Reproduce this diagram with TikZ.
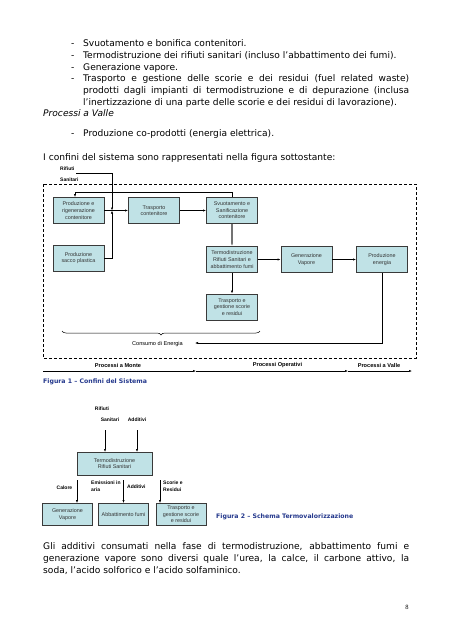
\documentclass[tikz,border=0pt]{standalone}
\usepackage{fontspec}
\setmainfont{DejaVu Sans}
\newfontfamily\arialfam{Liberation Sans}
\newfontfamily\serifam{Liberation Serif}
\usetikzlibrary{arrows.meta,decorations.pathreplacing}
\definecolor{boxfill}{RGB}{192,226,230}
\definecolor{boxedge}{RGB}{58,58,58}
\definecolor{capblue}{RGB}{36,56,140}
\newcommand{\bodysize}{\fontsize{9.1}{11}\selectfont}
\newcommand{\boxsize}{\arialfam\fontsize{5.4}{6.6}\selectfont}
\newcommand{\lblsize}{\arialfam\bfseries\fontsize{5}{7}\selectfont}
\newcommand{\axsize}{\arialfam\bfseries\fontsize{5.6}{7}\selectfont}
\newcommand{\capsize}{\bfseries\fontsize{6.2}{7.5}\selectfont}

\begin{document}
\begin{tikzpicture}[x=1pt,y=-1pt]
\tikzstyle{every node}+=[inner sep=0pt]
\tikzstyle{bodyline}=[anchor=base west,font=\bodysize]
\tikzstyle{procbox}=[draw=boxedge,line width=0.9pt,fill=boxfill,minimum width=51pt,minimum height=26pt,align=center,font=\boxsize,text=black!80]
\tikzstyle{flow}=[-{Latex[length=3pt,width=2.2pt]},line width=0.5pt]
\tikzstyle{grayflow}=[flow,line width=1.4pt,draw=black!55]
\tikzstyle{lbl}=[font=\lblsize,align=left]
\tikzstyle{axlbl}=[font=\axsize]
\tikzstyle{caption}=[anchor=base west,font=\capsize,text=capblue]
\tikzstyle{boundary}=[line width=0.9pt,dash pattern=on 3pt off 2pt]
\useasboundingbox (0,0) rectangle (452,640);
\node[bodyline] (b1) at (71,46.6) {-};
\node[bodyline] (t1) at (83,46.6) {Svuotamento e bonifica contenitori.};
\node[bodyline] (b2) at (71,58.3) {-};
\node[bodyline] (t2) at (83,58.3) {Termodistruzione dei rifiuti sanitari (incluso l’abbattimento dei fumi).};
\node[bodyline] (b3) at (71,70) {-};
\node[bodyline] (t3) at (83,70) {Generazione vapore.};
\node[bodyline] (b4) at (71,81.7) {-};
\node[bodyline] (t4) at (83,81.7) {\makebox[326pt][s]{Trasporto e gestione delle scorie e dei residui (fuel related waste)}};
\node[bodyline] (t5) at (83,93.4) {\makebox[326pt][s]{prodotti dagli impianti di termodistruzione e di depurazione (inclusa}};
\node[bodyline] (t6) at (83,105.1) {l’inertizzazione di una parte delle scorie e dei residui di lavorazione).};
\node[bodyline] (t7) at (43,116.8) {\itshape Processi a Valle};
\node[bodyline] (b8) at (71,136.6) {-};
\node[bodyline] (t8) at (83,136.6) {Produzione co-prodotti (energia elettrica).};
\node[bodyline] (t9) at (43,160.6) {I confini del sistema sono rappresentati nella figura sottostante:};
\draw[boundary] (43,184) rectangle (416,358);
\node[lbl,anchor=west] (rifa) at (60,169) {Rifiuti};
\node[lbl,anchor=west] (rifb) at (60,180) {Sanitari};
\node[procbox] (prodrig) at (78.5,210.5) {Produzione e\\rigenerazione\\contenitore};
\node[procbox] (traspc) at (154,210.5) {Trasporto\\contenitore};
\node[procbox] (svuot) at (232,210.5) {Svuotamento e\\Sanificazione\\contenitore};
\node[procbox] (sacco) at (78.5,258) {Produzione\\sacco plastica};
\node[procbox] (termo) at (232,259.5) {Termodistruzione\\Rifiuti Sanitari e\\abbattimento fumi};
\node[procbox] (genvap) at (306.5,259.5) {Generazione\\Vapore};
\node[procbox] (prodene) at (382,259.5) {Produzione\\energia};
\node[procbox] (traspsc) at (232,307) {Trasporto e\\gestione scorie\\e residui};
\coordinate (rifin) at (76,173);
\coordinate (jn) at (112,210.5);
\coordinate (fb) at (75,192);
\coordinate (constip) at (195,343);
\draw[flow] (rifin) -| (jn);
\draw[flow] (sacco.east) -| (jn);
\draw[flow] (prodrig.east) -- (traspc.west);
\draw[flow] (traspc.east) -- (svuot.west);
\draw[flow] (svuot.north) |- (fb) -- (fb |- prodrig.north);
\draw[grayflow] (svuot.south) -- (termo.north);
\draw[flow] (termo.east) -- (genvap.west);
\draw[flow] (genvap.east) -- (prodene.west);
\draw[flow] (termo.south) -- (traspsc.north);
\draw[flow] (prodene.south) |- (constip);
\node[axlbl,font=\arialfam\fontsize{5.6}{7}\selectfont] (consumo) at (157.5,344) {Consumo di Energia};
\draw[line width=0.5pt,decorate,decoration={brace,mirror,amplitude=4pt}] (62,331) -- (260,331);
\coordinate (ax0) at (43,371);
\coordinate (ax1) at (196,371);
\coordinate (ax2) at (348,371);
\coordinate (ax3) at (412,371);
\draw[flow] (ax0) -- (ax1);
\draw[flow] (ax1) -- (ax2);
\draw[flow] (ax2) -- (ax3);
\node[axlbl] (monte) at (118,365) {Processi a Monte};
\node[axlbl] (operat) at (277.5,365) {Processi Operativi};
\node[axlbl] (valle) at (379,365) {Processi a Valle};
\node[caption] (cap1) at (43,383.5) {Figura 1 – Confini del Sistema};
\node[lbl] (rif2a) at (102,409) {Rifiuti};
\node[lbl] (rif2b) at (110,420) {Sanitari};
\node[lbl] (add2) at (137,420) {Additivi};
\node[procbox,minimum width=75pt,minimum height=22.5pt] (termo2) at (114.5,463.7) {Termodistruzione\\Rifiuti Sanitari};
\node[procbox,minimum width=50pt,minimum height=22pt] (genvap2) at (67.5,514.5) {Generazione\\Vapore};
\node[procbox,minimum width=50pt,minimum height=22pt] (abbat) at (123.5,514.5) {Abbattimento fumi};
\node[procbox,minimum width=50pt,minimum height=22pt] (trasp2) at (181,514.5) {Trasporto e\\gestione scorie\\e residui};
\coordinate (inrif) at (105,430);
\coordinate (inadd) at (137,430);
\coordinate (outcal) at (77,480);
\coordinate (outemi) at (123.5,480);
\coordinate (outsco) at (160,480);
\draw[flow] (inrif) -- (inrif |- termo2.north);
\draw[flow] (inadd) -- (inadd |- termo2.north);
\draw[flow] (outcal) -- (outcal |- genvap2.north);
\draw[flow] (outemi) -- (outemi |- abbat.north);
\draw[flow] (outsco) -- (outsco |- trasp2.north);
\node[lbl] (calore) at (64.5,488) {Calore};
\node[lbl,anchor=north west] (emiss) at (91,481) {Emissioni in\\aria};
\node[lbl,anchor=west] (add3) at (127,487) {Additivi};
\node[lbl,anchor=north west] (scorie) at (163,481) {Scorie e\\Residui};
\node[caption] (cap2) at (216,518.5) {Figura 2 – Schema Termovalorizzazione};
\node[bodyline] (p1) at (43,549.5) {\makebox[366pt][s]{Gli additivi consumati nella fase di termodistruzione, abbattimento fumi e}};
\node[bodyline] (p2) at (43,561.5) {\makebox[366pt][s]{generazione vapore sono diversi quale l’urea, la calce, il carbone attivo, la}};
\node[bodyline] (p3) at (43,573.5) {soda, l’acido solforico e l’acido solfaminico.};
\node[anchor=base,font=\serifam\fontsize{6.5}{7}\selectfont] (pagenum) at (407,609) {8};
\end{tikzpicture}
\end{document}
